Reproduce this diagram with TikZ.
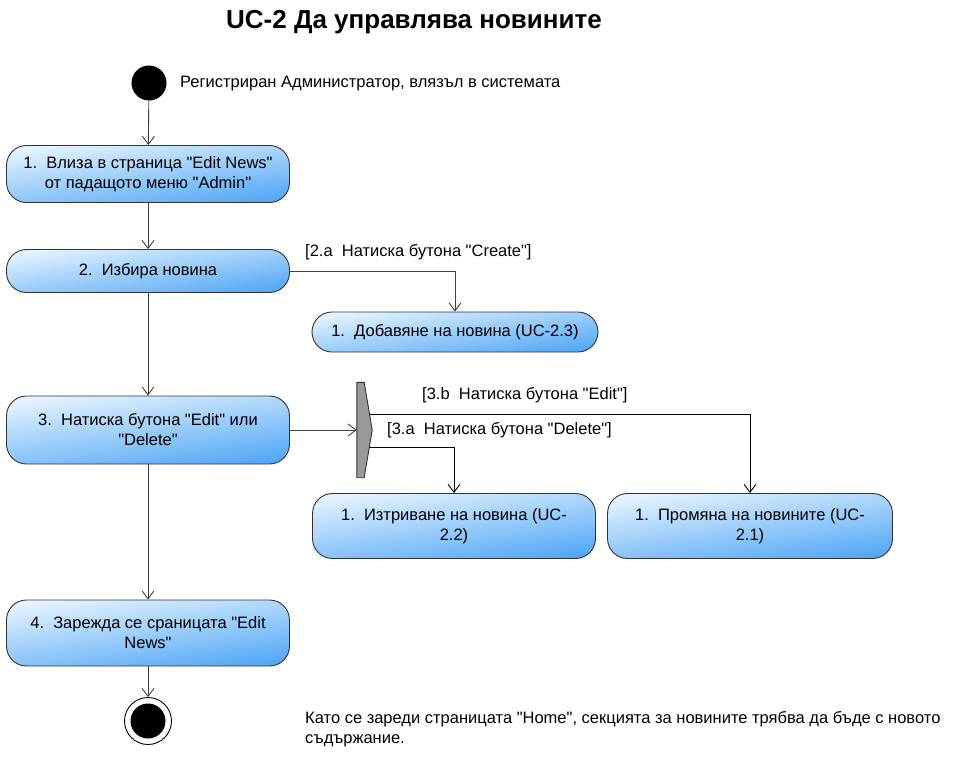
\documentclass[tikz,border=0pt]{standalone}
\usepackage{fontspec}
\setmainfont{Liberation Sans}[Ligatures=TeXOff]
\usetikzlibrary{arrows.meta}

\definecolor{acttop}{HTML}{E4F3FF}
\definecolor{actbot}{HTML}{55A8F5}
\definecolor{lineg}{HTML}{404040}

\tikzset{
	action/.style={draw=black!80, line width=0.9pt, rounded corners=20pt, top color=acttop, bottom color=actbot, shading angle=8, align=center, inner sep=2pt, font=\fontsize{16.5}{20}\selectfont},
	flow/.style={draw=lineg, line width=0.9pt, -{Straight Barb[length=8pt,width=12pt]}},
	note/.style={font=\fontsize{16.5}{20}\selectfont, align=left, inner sep=0pt},
}

\begin{document}
\begin{tikzpicture}[x=1pt, y=-1pt]
	\useasboundingbox (0,0) rectangle (967,777);
	
	
	\node[font=\fontsize{26}{30}\selectfont\bfseries] (title) at (414,22) {UC-2 Да управлява новините};
	
	\node[circle, fill=black, minimum size=35pt, inner sep=0pt] (start) at (149,83) {};
	\node[note, anchor=west] (startnote) at (180,84) {Регистриран Администратор, влязъл в системата};
	
	\node[action, minimum width=283pt, minimum height=57pt] (act1) at (148,174) {1.\ \ Влиза в страница "Edit News"\\от падащото меню "Admin"};
	\node[action, minimum width=283pt, minimum height=43pt] (act2) at (148,271) {2.\ \ Избира новина};
	\node[action, minimum width=286pt, minimum height=40pt] (add) at (455,332) {1.\ \ Добавяне на новина (UC-2.3)};
	\node[action, minimum width=283pt, minimum height=68pt] (act3) at (148,430) {3.\ \ Натиска бутона "Edit" или\\"Delete"};
	\node[action, minimum width=283pt, minimum height=65pt] (del) at (454,526) {1.\ \ Изтриване на новина (UC-\\2.2)};
	\node[action, minimum width=285pt, minimum height=65pt] (edit) at (750,526) {1.\ \ Промяна на новините (UC-\\2.1)};
	\node[action, minimum width=283pt, minimum height=66pt] (act4) at (148,633) {4.\ \ Зарежда се сраницата "Edit\\News"};
	
	\node[circle, draw=black, line width=0.9pt, fill=white, minimum size=47pt, inner sep=0pt] (end) at (148,721) {};
	\node[circle, fill=black, minimum size=35pt, inner sep=0pt] (endin) at (148,721) {};
	\node[note, anchor=north west] (endnote) at (305,711) {Като се зареди страницата "Home", секцията за новините трябва да бъде с новото\\съдържание.};
	
	% fork bar
	\node[inner sep=0pt, minimum width=7pt, minimum height=95pt] (fork) at (360.5,430) {};
	\draw[black!80, line width=0.9pt, fill=black!40] (fork.north west) -- (fork.north east) -- ([xshift=8pt]fork.east) -- (fork.south east) -- (fork.south west) -- cycle;
	
	\draw[flow] (start) -- (act1);
	\draw[flow] (act1) -- (act2);
	\draw[flow] (act2.east) -| (add.north);
	\node[note, anchor=west] (lblcreate) at (305,252) {[2.a\ \ Натиска бутона "Create"]};
	\draw[flow] (act2) -- (act3);
	\draw[flow] (act3.east) -- (fork.west);
	\draw[flow, draw=black] ([xshift=5.5pt,yshift=16pt]fork.east) -| (edit.north);
	\draw[flow, draw=black] ([xshift=5pt,yshift=-17pt]fork.east) -| (del.north);
	\node[note, anchor=west] (lbledit) at (422,395) {[3.b\ \ Натиска бутона "Edit"]};
	\node[note, anchor=west] (lbldel) at (387,430) {[3.a\ \ Натиска бутона "Delete"]};
	\draw[flow] (act3) -- (act4);
	\draw[flow] (act4) -- (end);
	
\end{tikzpicture}
\end{document}
